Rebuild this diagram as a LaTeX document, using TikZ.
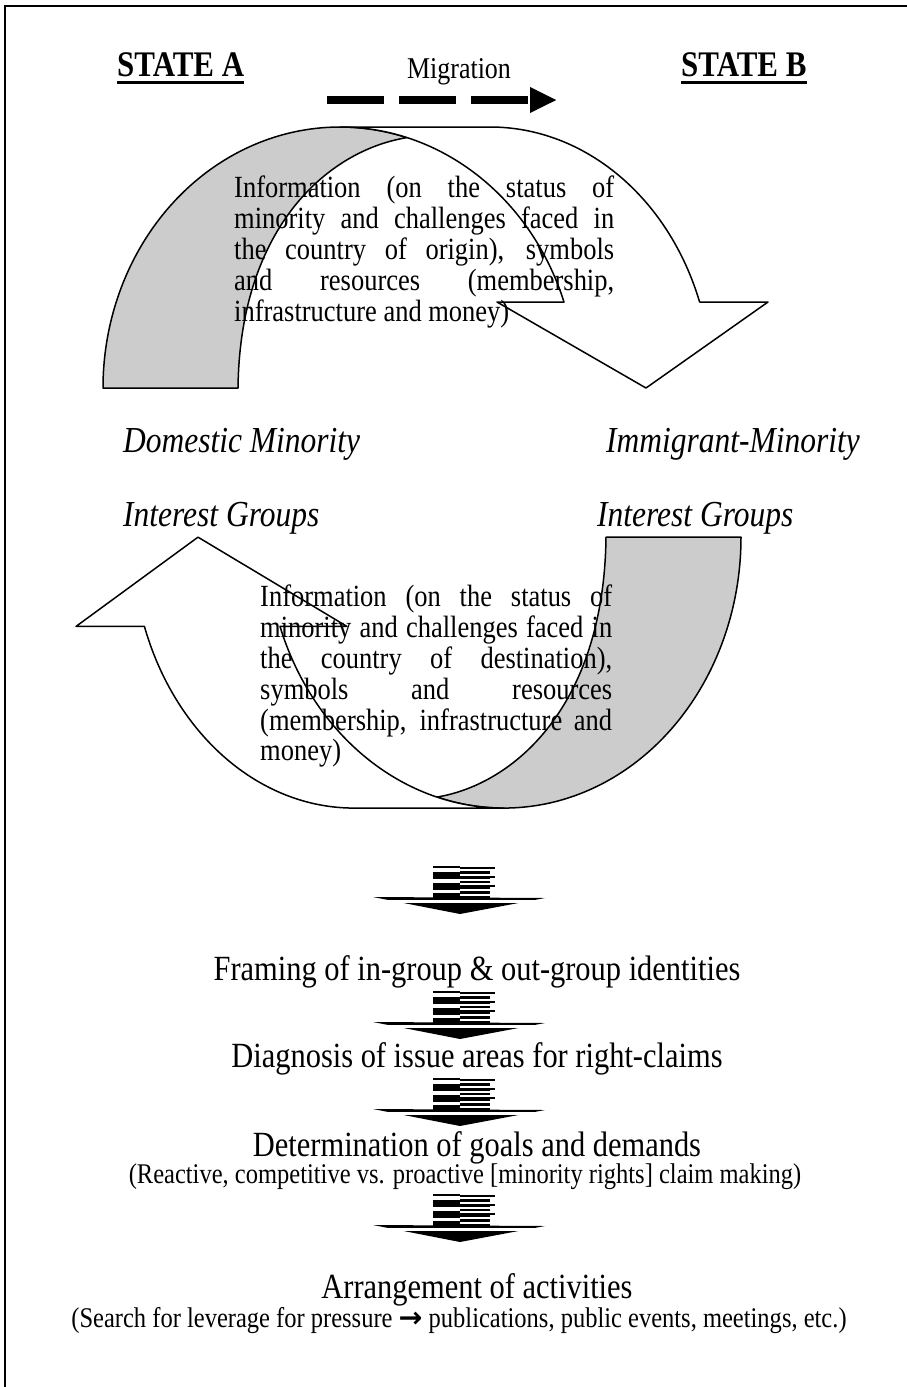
\documentclass[tikz,border=0pt]{standalone}
\usepackage{fontspec}
\setmainfont{Liberation Serif}[FakeStretch=0.86]
\newfontfamily\symfont{DejaVu Sans}
\usetikzlibrary{positioning,arrows.meta}
\definecolor{ribbongray}{RGB}{204,204,204}
\newcommand{\jline}[2]{\makebox[#1][s]{#2}}

\begin{document}
\begin{tikzpicture}[x=1pt, y=-1pt,
    heading/.style={inner sep=0pt, anchor=base west,
        font=\fontsize{36}{40}\selectfont\bfseries},
    grouplabel/.style={inner sep=0pt, anchor=base west,
        font=\fontsize{36.6}{40}\selectfont\itshape},
    info/.style={inner sep=0pt, align=left, anchor=north west,
        font=\fontsize{30.8}{30.8}\selectfont},
    stage/.style={inner sep=0pt, anchor=base, font=\fontsize{35.4}{38}\selectfont},
    note/.style={inner sep=0pt, anchor=base, font=\fontsize{28.5}{30}\selectfont},
    ribbon/.style={draw, line width=1.5pt, line join=round},
    uline/.style={line width=3pt},
    migline/.style={line width=8pt, dash pattern=on 57pt off 15pt,
        -{Triangle[length=27pt, width=24pt]}}]

    \useasboundingbox (0,0) rectangle (907,1387);

    % ====== Frame ======
    \draw[line width=1.6pt] (5,1395) -- (5,6) -- (915,6);

    % ====== States ======
    \node [heading] (stateA) at (117,76) {STATE A};
    \node [heading] (stateB) at (681,76) {STATE B};
    \draw [uline] ([yshift=-6pt]stateA.base west) -- ([yshift=-6pt]stateA.base east);
    \draw [uline] ([yshift=-6pt]stateB.base west) -- ([yshift=-6pt]stateB.base east);

    % ====== Migration ======
    \node [inner sep=0pt, anchor=base, font=\fontsize{30.2}{34}\selectfont] (migr) at (459,78) {Migration};
    \coordinate (migS) at (327,100);
    \coordinate (migE) at (557,100);
    \draw [migline] (migS) -- (migE);

    % ====== U-turn ribbons (top, and the same turned round) ======
    \foreach \dx/\dy/\sx/\sy in {0/0/1/1, 844/939.9/-1/-1.038} {
        \begin{scope}[shift={(\dx,\dy)}, xscale=\sx, yscale=\sy]
            \path [ribbon, fill=ribbongray] (103,388)
                arc[start angle=180, end angle=286.4, x radius=237, y radius=261]
                .. controls (330,150) and (240,225) .. (238,388) -- cycle;
            \path [ribbon, fill=white] (340,127) -- (490,127)
                arc[start angle=270, end angle=340.76, x radius=222, y radius=261]
                -- (768,302) -- (646,388) -- (497,302) -- (564,302)
                arc[start angle=340.76, end angle=270, x radius=237, y radius=261]
                -- cycle;
        \end{scope}
    }

    % ====== Flow texts ======
    \node [info] (infoA) at (234,176) {%
        \jline{380pt}{Information (on the status of}\\
        \jline{380pt}{minority and challenges faced in}\\
        \jline{380pt}{the country of origin), symbols}\\
        \jline{380pt}{and resources (membership,}\\
        infrastructure and money)};
    \node [info] (infoB) at (260,585) {%
        \jline{352pt}{Information (on the status of}\\
        \jline{352pt}{minority and challenges faced in}\\
        \jline{352pt}{the country of destination),}\\
        \jline{352pt}{symbols and resources}\\
        \jline{352pt}{(membership, infrastructure and}\\
        money)};

    % ====== Interest groups ======
    \node [grouplabel] (domA) at (123,452) {Domestic Minority};
    \node [grouplabel] (domB) at (606,452) {Immigrant-Minority};
    \node [grouplabel] (igA)  at (123,526) {Interest Groups};
    \node [grouplabel] (igB)  at (597,526) {Interest Groups};

    % ====== Striped down arrows ======
    \foreach \yt in {866, 991, 1078, 1194} {
        \foreach \a/\b in {0/2, 6/13, 17/24, 27/32}
            \fill (433,\yt+\a) rectangle (460,\yt+\b);
        \foreach \a/\b in {1/3, 5/8, 10/13, 15/17, 19/23, 25/28, 30/32}
            \fill (460,\yt+\a) rectangle (490,\yt+\b);
        \foreach \a/\b in {1/3, 10/12, 19/21}
            \fill (490,\yt+\a) rectangle (495,\yt+\b);
        \fill (373,\yt+31) -- (545,\yt+32) -- (460,\yt+48) -- cycle;
        \fill [white] (373,\yt+34) rectangle (545,\yt+37);
    }

    % ====== Stages ======
    \node [stage] (framing)    at (477,980)  {Framing of in-group \& out-group identities};
    \node [stage] (diagnosis)  at (477,1067) {Diagnosis of issue areas for right-claims};
    \node [stage] (goals)      at (477,1156) {Determination of goals and demands};
    \node [note]  (goalsNote)  at (465,1183) {(Reactive, competitive vs. proactive [minority rights] claim making)};
    \node [stage] (activities) at (477,1298) {Arrangement of activities};
    \node [note]  (activNote)  at (459,1327) {(Search for leverage for pressure {\symfont\bfseries →} publications, public events, meetings, etc.)};
\end{tikzpicture}
\end{document}
